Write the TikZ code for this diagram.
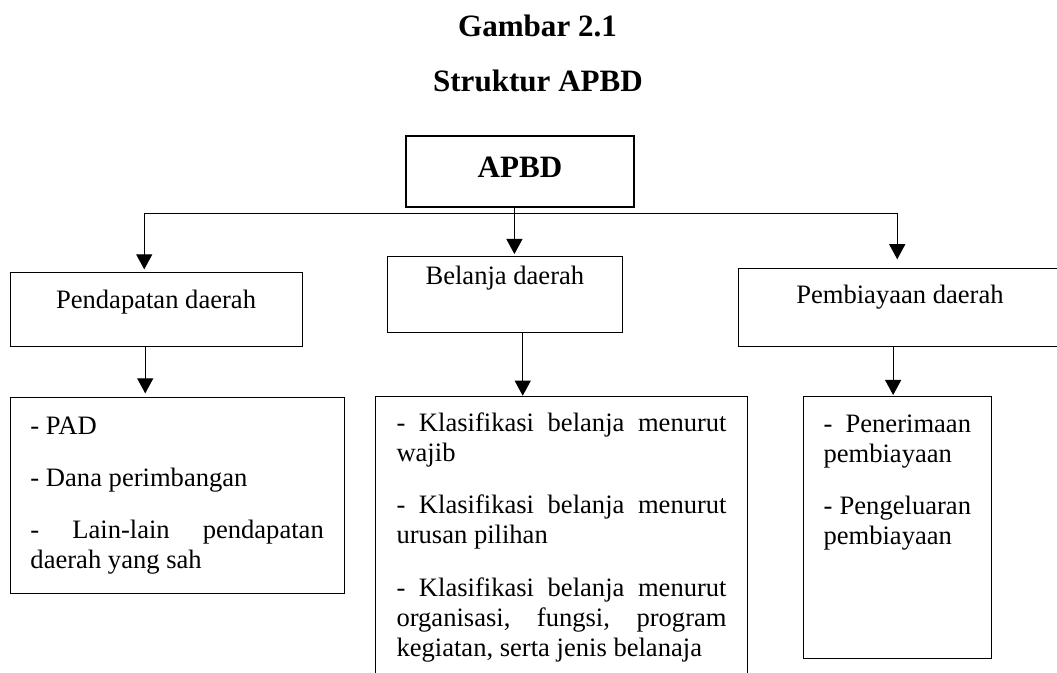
\documentclass[tikz,border=0pt]{standalone}
\usepackage{fontspec}
\setmainfont{Liberation Serif}
\usetikzlibrary{arrows.meta,positioning,calc}

\newcommand{\bodyfont}{\fontsize{18.9}{21.6}\selectfont}
\newcommand{\listfont}{\bodyfont\setlength{\parskip}{15.4pt}\setlength{\parindent}{0pt}%
  \hyphenpenalty=10000 \exhyphenpenalty=10000 \tolerance=9000\relax}

\begin{document}
\begin{tikzpicture}[
    x=0.025cm, y=-0.025cm,
    titletext/.style={font=\fontsize{22.1}{26}\selectfont\bfseries, anchor=base, inner sep=0},
    headbox/.style={rectangle, draw, line width=0.7pt, inner sep=0, anchor=north west, align=center, font=\bodyfont},
    rootbox/.style={headbox, line width=1.4pt, font=\fontsize{22.1}{26}\selectfont\bfseries},
    listbox/.style={rectangle, draw, line width=0.7pt, inner ysep=0, anchor=north west, align=justify, font=\listfont},
    arrow/.style={-{Triangle[width=11.4pt,length=10.7pt]}, line width=0.7pt, shorten >=2pt},
    link/.style={line width=0.7pt}
]
\clip (0,0) rectangle (1057,672);

% Figure caption
\node[titletext] (fig) at (537.5,36) {Gambar 2.1};
\node[titletext] (figtitle) at (538,91) {Struktur APBD};

% Root box
\node[rootbox, minimum width=5.7cm, text height=1.025cm, text depth=0.75cm] (apbd) at (405,135) {APBD};

% Main parts of the budget
\node[headbox, minimum width=7.3cm, text height=0.8925cm, text depth=0.95cm] (pendapatan) at (9.5,272.3) {Pendapatan daerah};
\node[headbox, minimum width=5.8675cm, text height=0.7cm, text depth=1.1925cm] (belanja) at (387,256) {Belanja daerah};
\node[headbox, minimum width=8.08cm, text height=0.89cm, text depth=1.06cm] (pembiayaan) at (737.8,267.7) {Pembiayaan daerah};

% Items of each part
\node[listbox, text width=7.33cm, inner xsep=0.5125cm, text height=0.9175cm, text depth=3.9825cm] (pendapatanlist) at (9.5,397.3) {
    - PAD\par
    - Dana perimbangan\par
    - Lain-lain pendapatan daerah yang sah
};
\node[listbox, text width=8.25cm, inner xsep=0.525cm, text height=0.875cm, text depth=6.1325cm] (belanjalist) at (375,395.7) {
    - Klasifikasi belanja menurut wajib\par
    - Klasifikasi belanja menurut urusan pilihan\par
    - Klasifikasi belanja menurut organisasi, fungsi, program kegiatan, serta jenis belanaja
};
\node[listbox, text width=3.6875cm, inner xsep=0.5cm, text height=0.8925cm, text depth=5.65cm] (pembiayaanlist) at (803,396) {
    - Penerimaan pembiayaan\par
    - Pengeluaran pembiayaan
};

% APBD to the three parts
\coordinate (bus) at (514.4,213.3);
\draw[link] (apbd.south -| bus) -- (bus);
\draw[arrow, shorten >=1.4pt] (bus) -- (belanja.north -| bus);
\draw[arrow, shorten >=2.1pt] (bus) -| ($(pendapatan.north)+(-11.8,0)$);
\draw[arrow, shorten >=6pt] (bus) -| ($(pembiayaan.north)+(-2.7,0)$);

% Parts to their items
\coordinate (dropL) at ($(pendapatan.south)+(-10.8,0)$);
\coordinate (dropM) at ($(belanja.south)+(17.85,0)$);
\coordinate (dropR) at ($(pembiayaan.south)+(-6.8,0)$);
\draw[arrow, shorten >=2.8pt] (dropL) -- (dropL |- pendapatanlist.north);
\draw[arrow, shorten >=0pt] (dropM) -- (dropM |- belanjalist.north);
\draw[arrow, shorten >=0.7pt] (dropR) -- (dropR |- pembiayaanlist.north);

\end{tikzpicture}
\end{document}
